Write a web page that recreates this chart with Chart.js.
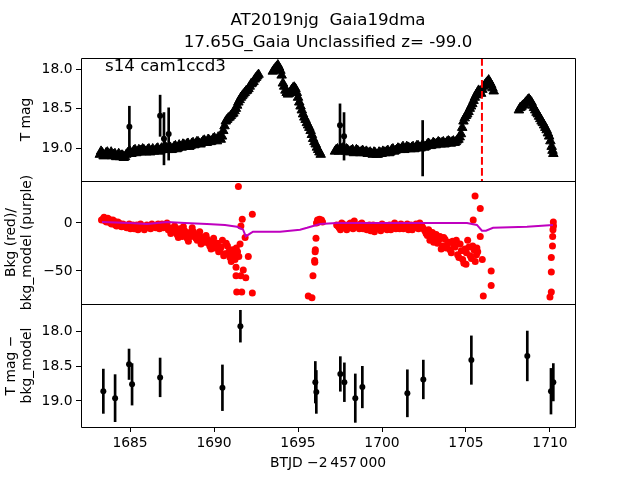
<!DOCTYPE html>
<html>
<head>
<meta charset="utf-8">
<script src="https://cdn.jsdelivr.net/npm/chart.js"></script>
<style>
  html, body { margin: 0; padding: 0; background: #fff; }
  #wrap { width: 640px; height: 480px; }
</style>
</head>
<body>
<div id="wrap"><canvas id="lcChart" width="640" height="480"></canvas></div>
<script>
// titles / labels
const titleLines = ['AT2019njg  Gaia19dma', '17.65G_Gaia Unclassified z= -99.0'];
const sectorLabel = 's14 cam1ccd3';
const xLabel = 'BTJD \u22122\u2009457\u2009000';
const eventTime = 1705.95;

// x range and ticks (BTJD - 2457000)
const xMin = 1682.08, xMax = 1711.49;
const magMin = 17.861, magMax = 19.414;     // top panel (inverted)
const bkgMin = -84.4, bkgMax = 43.75;       // middle panel
const difMin = 17.599, difMax = 19.377;     // bottom panel (inverted)

// TESS light curve, T mag (triangles)
const lcTime = [
  1683.2, 1683.35, 1683.5, 1683.65, 1683.8, 1683.95, 1684.1, 1684.25, 1684.4, 1684.55,
  1684.7, 1684.85, 1685.0, 1685.15, 1685.3, 1685.45, 1685.6, 1685.75, 1685.9, 1686.05,
  1686.2, 1686.35, 1686.5, 1686.65, 1686.8, 1686.95, 1687.1, 1687.25, 1687.4, 1687.55,
  1687.7, 1687.85, 1688.0, 1688.15, 1688.3, 1688.45, 1688.6, 1688.75, 1688.9, 1689.05,
  1689.2, 1689.35, 1689.5, 1689.65, 1689.8, 1689.95, 1690.1, 1690.25, 1690.4, 1690.55,
  1690.7, 1690.85, 1691.0, 1691.15, 1691.3, 1691.45, 1691.6, 1691.75, 1691.9, 1692.05,
  1692.2, 1692.35, 1692.5, 1692.65,
  1693.5, 1693.65, 1693.8, 1693.95, 1694.1, 1694.25, 1694.4, 1694.55, 1694.7, 1694.85,
  1695.0, 1695.15, 1695.3, 1695.45, 1695.6, 1695.75, 1695.9, 1696.05, 1696.2, 1696.35,
  1697.2, 1697.35, 1697.5, 1697.65, 1697.8, 1697.95, 1698.1, 1698.25, 1698.4, 1698.55,
  1698.7, 1698.85, 1699.0, 1699.15, 1699.3, 1699.45, 1699.6, 1699.75, 1699.9, 1700.05,
  1700.2, 1700.35, 1700.5, 1700.65, 1700.8, 1700.95, 1701.1, 1701.25, 1701.4, 1701.55,
  1701.7, 1701.85, 1702.0, 1702.15, 1702.3, 1702.45, 1702.6, 1702.75, 1702.9, 1703.05,
  1703.2, 1703.35, 1703.5, 1703.65, 1703.8, 1703.95, 1704.1, 1704.25, 1704.4, 1704.55,
  1704.7, 1704.85, 1705.0, 1705.15, 1705.3, 1705.45, 1705.6, 1705.75, 1705.9, 1706.05,
  1706.2, 1706.35, 1706.5, 1706.65,
  1708.15, 1708.3, 1708.45, 1708.6, 1708.75, 1708.9, 1709.05, 1709.2, 1709.35, 1709.5,
  1709.65, 1709.8, 1709.95, 1710.1, 1710.2
];
const lcMag = [
  19.08, 19.06, 19.09, 19.05, 19.08, 19.10, 19.07, 19.10, 19.11, 19.09,
  19.11, 19.06, 19.04, 19.06, 19.02, 19.05, 19.03, 19.01, 19.04, 19.02,
  19.05, 19.01, 19.03, 19.00, 19.03, 19.01, 18.98, 19.02, 18.99, 19.01,
  18.97, 19.00, 18.98, 18.95, 18.98, 18.94, 18.97, 18.93, 18.95, 18.92,
  18.95, 18.91, 18.93, 18.89, 18.92, 18.88, 18.90, 18.86, 18.89, 18.78,
  18.66, 18.62, 18.59, 18.56, 18.50, 18.42, 18.36, 18.32, 18.28, 18.25,
  18.19, 18.16, 18.11, 18.07,
  18.03, 17.99, 17.95, 18.02, 18.18, 18.27, 18.32, 18.29, 18.24, 18.25,
  18.36, 18.47, 18.57, 18.64, 18.71, 18.78, 18.88, 18.95, 19.02, 19.08,
  19.04, 19.01, 19.03, 19.00, 19.04, 19.02, 19.05, 19.02, 19.05, 19.03,
  19.06, 19.03, 19.05, 19.07, 19.05, 19.08, 19.06, 19.08, 19.06, 19.04,
  19.06, 19.03, 19.05, 19.01, 19.03, 19.00, 19.02, 18.98, 19.01, 18.99,
  19.01, 18.98, 19.00, 18.97, 19.00, 18.96, 18.98, 18.94, 18.97, 18.93,
  18.96, 18.92, 18.95, 18.92, 18.94, 18.91, 18.94, 18.91, 18.92, 18.89,
  18.82, 18.66, 18.59, 18.54, 18.47, 18.40, 18.33, 18.27, 18.31, 18.22,
  18.18, 18.14, 18.20, 18.28,
  18.52, 18.48, 18.45, 18.41, 18.38, 18.42, 18.49, 18.55, 18.60, 18.66,
  18.71, 18.77, 18.85, 18.98, 19.07
];
// interleaved cadences of the same light curve
const lcTimeB = [
  1683.275, 1683.425, 1683.575, 1683.725, 1683.875, 1684.025, 1684.175, 1684.325, 1684.475, 1684.625,
  1684.775, 1684.925, 1685.075, 1685.225, 1685.375, 1685.525, 1685.675, 1685.825, 1685.975, 1686.125,
  1686.275, 1686.425, 1686.575, 1686.725, 1686.875, 1687.025, 1687.175, 1687.325, 1687.475, 1687.625,
  1687.775, 1687.925, 1688.075, 1688.225, 1688.375, 1688.525, 1688.675, 1688.825, 1688.975, 1689.125,
  1689.275, 1689.425, 1689.575, 1689.725, 1689.875, 1690.025, 1690.175, 1690.325, 1690.475, 1690.625,
  1690.775, 1690.925, 1691.075, 1691.225, 1691.375, 1691.525, 1691.675, 1691.825, 1691.975, 1692.125,
  1692.275, 1692.425, 1692.575,
  1693.575, 1693.725, 1693.875, 1694.025, 1694.175, 1694.325, 1694.475, 1694.625, 1694.775, 1694.925,
  1695.075, 1695.225, 1695.375, 1695.525, 1695.675, 1695.825, 1695.975, 1696.125, 1696.275,
  1697.275, 1697.425, 1697.575, 1697.725, 1697.875, 1698.025, 1698.175, 1698.325, 1698.475, 1698.625,
  1698.775, 1698.925, 1699.075, 1699.225, 1699.375, 1699.525, 1699.675, 1699.825, 1699.975, 1700.125,
  1700.275, 1700.425, 1700.575, 1700.725, 1700.875, 1701.025, 1701.175, 1701.325, 1701.475, 1701.625,
  1701.775, 1701.925, 1702.075, 1702.225, 1702.375, 1702.525, 1702.675, 1702.825, 1702.975, 1703.125,
  1703.275, 1703.425, 1703.575, 1703.725, 1703.875, 1704.025, 1704.175, 1704.325, 1704.475, 1704.625,
  1704.775, 1704.925, 1705.075, 1705.225, 1705.375, 1705.525, 1705.675, 1705.825, 1705.975, 1706.125,
  1706.275, 1706.425, 1706.575,
  1708.225, 1708.375, 1708.525, 1708.675, 1708.825, 1708.975, 1709.125, 1709.275, 1709.425, 1709.575,
  1709.725, 1709.875, 1710.025, 1710.15
];
const lcMagB = [
  19.04, 19.10, 19.06, 19.09, 19.05, 19.08, 19.11, 19.07, 19.09, 19.12,
  19.08, 19.05, 19.07, 19.03, 19.06, 19.02, 19.05, 19.02, 19.05, 19.01,
  19.03, 19.04, 19.01, 19.04, 19.00, 19.02, 19.00, 18.98, 19.02, 18.98,
  19.01, 18.96, 18.99, 18.96, 18.95, 18.98, 18.94, 18.96, 18.92, 18.94,
  18.93, 18.90, 18.93, 18.90, 18.91, 18.87, 18.91, 18.88, 18.85, 18.72,
  18.64, 18.61, 18.57, 18.53, 18.46, 18.39, 18.34, 18.30, 18.27, 18.22,
  18.18, 18.13, 18.09,
  18.01, 17.97, 17.98, 18.08, 18.22, 18.30, 18.31, 18.26, 18.23, 18.30,
  18.42, 18.52, 18.61, 18.68, 18.74, 18.83, 18.92, 18.99, 19.05,
  19.02, 19.04, 19.01, 19.03, 19.01, 19.04, 19.03, 19.06, 19.02, 19.05,
  19.04, 19.06, 19.04, 19.06, 19.07, 19.05, 19.08, 19.05, 19.07, 19.05,
  19.04, 19.06, 19.02, 19.04, 19.02, 19.01, 19.00, 19.02, 18.98, 19.00,
  18.99, 19.01, 18.97, 18.99, 18.97, 18.99, 18.96, 18.95, 18.96, 18.94,
  18.94, 18.93, 18.93, 18.95, 18.92, 18.92, 18.92, 18.93, 18.90, 18.86,
  18.74, 18.62, 18.57, 18.50, 18.44, 18.36, 18.30, 18.29, 18.26, 18.20,
  18.16, 18.17, 18.24,
  18.49, 18.46, 18.43, 18.39, 18.40, 18.46, 18.52, 18.57, 18.63, 18.68,
  18.74, 18.81, 18.91, 19.03
];

// difference-image points shown in the top panel
const ptTime = [1684.96, 1686.79, 1687.02, 1687.30, 1697.50, 1697.74, 1702.42];
const ptMag  = [18.73, 18.59, 18.88, 18.82, 18.71, 18.85, 19.00];
const ptErr  = [0.26, 0.26, 0.33, 0.33, 0.27, 0.30, 0.35];

// background flux (red dots)
const bkgTime = [
  1683.3, 1683.45, 1683.6, 1683.75, 1683.9, 1684.05, 1684.2, 1684.35, 1684.5, 1684.65,
  1684.8, 1684.95, 1685.1, 1685.25, 1685.4, 1685.55, 1685.7, 1685.85, 1686.0, 1686.15,
  1686.3, 1686.45, 1686.6, 1686.75, 1686.9, 1687.05, 1687.2, 1687.35, 1687.5, 1687.65,
  1687.8, 1687.95, 1688.1, 1688.25, 1688.4, 1688.55, 1688.7, 1688.85, 1689.0, 1689.15,
  1689.3, 1689.45, 1689.6, 1689.75, 1689.9, 1690.05, 1690.2, 1690.35, 1690.5, 1690.65,
  1690.8, 1690.95, 1691.1, 1691.25, 1691.4, 1691.55,
  1691.45, 1691.68, 1692.28, 1691.6, 1691.85, 1692.04, 1691.31, 1691.74, 1691.31, 1691.59,
  1691.89, 1691.35, 1691.65, 1692.28,
  1695.61, 1695.83, 1695.89, 1695.99, 1696.0, 1696.02, 1696.03, 1696.07, 1696.1, 1696.16,
  1696.22, 1696.28, 1696.34, 1696.4, 1696.46,
  1697.3, 1697.45, 1697.6, 1697.75, 1697.9, 1698.05, 1698.2, 1698.35, 1698.5, 1698.65,
  1698.8, 1698.95, 1699.1, 1699.25, 1699.4, 1699.55, 1699.7, 1699.85, 1700.0, 1700.15,
  1700.3, 1700.45, 1700.6, 1700.75, 1700.9, 1701.05, 1701.2, 1701.35, 1701.5, 1701.65,
  1701.8, 1701.95, 1702.1, 1702.25, 1702.4, 1702.55, 1702.7, 1702.85, 1703.0, 1703.15,
  1703.3, 1703.45, 1703.6, 1703.75, 1703.9, 1704.05, 1704.2, 1704.35, 1704.5, 1704.65,
  1704.8, 1704.95, 1705.1, 1705.25, 1705.4, 1705.55, 1705.7, 1705.85,
  1705.54, 1705.85, 1705.43, 1706.5, 1706.5, 1706.03, 1705.97, 1705.65, 1705.0,
  1710.2, 1710.21, 1710.18, 1710.16, 1710.15, 1710.08, 1710.08, 1710.08, 1710.0
];
const bkgFlux = [
  3, 6, 1, 4, -1, 2, -3, 0, -4, -2,
  -5, -1, -4, -6, -2, -5, -3, -7, -2, -5,
  -1, -4, -2, -6, -1, -3, 0, -5, -9, -3,
  -12, -6, -14, -8, -16, -10, -5, -13, -18, -9,
  -15, -20, -17, -24, -19, -26, -21, -28, -18, -32,
  -24, -36, -28, -38, -30, -22,
  38, 4, 9, -3, -15, -35, -46, -49, -55, -55,
  -57, -72, -72, -73,
  -76, -78, -55, -39, -41, -30, -28, -16, 0, 3,
  1, 4, 2, 3, 1,
  -2, -5, 0, -4, -7, -1, -5, 2, -3, -6,
  0, -4, -7, -2, -5, -9, -3, -6, -1, -4,
  -7, -2, -5, 0, -4, -6, -2, -5, -1, -4,
  -7, -3, -5, 0, -4, -8, -13, -18, -10, -16,
  -21, -14, -24, -17, -22, -28, -19, -25, -33, -22,
  -38, -27, -18, -34, -24, -40, -30, -14,
  28, 15, 3, -50, -65, -76, -38, -26, -43,
  1, -3, -7, -14, -24, -36, -51, -72, -77
];
const bkgTimeB = [
  1683.375, 1683.525, 1683.675, 1683.825, 1683.975, 1684.125, 1684.275, 1684.425, 1684.575, 1684.725,
  1684.875, 1685.025, 1685.175, 1685.325, 1685.475, 1685.625, 1685.775, 1685.925, 1686.075, 1686.225,
  1686.375, 1686.525, 1686.675, 1686.825, 1686.975, 1687.125, 1687.275, 1687.425, 1687.575, 1687.725,
  1687.875, 1688.025, 1688.175, 1688.325, 1688.475, 1688.625, 1688.775, 1688.925, 1689.075, 1689.225,
  1689.375, 1689.525, 1689.675, 1689.825, 1689.975, 1690.125, 1690.275, 1690.425, 1690.575, 1690.725,
  1690.875, 1691.025, 1691.175, 1691.325, 1691.475,
  1697.375, 1697.525, 1697.675, 1697.825, 1697.975, 1698.125, 1698.275, 1698.425, 1698.575, 1698.725,
  1698.875, 1699.025, 1699.175, 1699.325, 1699.475, 1699.625, 1699.775, 1699.925, 1700.075, 1700.225,
  1700.375, 1700.525, 1700.675, 1700.825, 1700.975, 1701.125, 1701.275, 1701.425, 1701.575, 1701.725,
  1701.875, 1702.025, 1702.175, 1702.325, 1702.475, 1702.625, 1702.775, 1702.925, 1703.075, 1703.225,
  1703.375, 1703.525, 1703.675, 1703.825, 1703.975, 1704.125, 1704.275, 1704.425, 1704.575, 1704.725,
  1704.875, 1705.025, 1705.175, 1705.325, 1705.475, 1705.625
];
const bkgFluxB = [
  4, 2, 5, 0, 3, -2, 1, -3, -1, -4,
  -3, -6, -2, -4, -7, -1, -5, -4, -3, -6,
  -3, -5, -1, -4, -5, -2, -7, -11, -6, -8,
  -15, -10, -4, -12, -19, -14, -9, -16, -12, -22,
  -18, -13, -21, -27, -16, -23, -30, -25, -34, -21,
  -30, -40, -33, -26, -35,
  -3, -7, -1, -5, -3, 0, -6, -2, -4, -1,
  -6, -3, -5, -8, -2, -6, -4, -8, -2, -5,
  -3, -7, -2, -6, -3, -1, -6, -3, -7, -2,
  -5, -1, -6, -3, -6, -11, -7, -15, -20, -12,
  -18, -27, -15, -26, -20, -31, -23, -18, -36, -29,
  -42, -31, -25, -37, -28, -33
];

// background model (purple line)
const modelTime = [
  1683.33, 1685.0, 1686.01, 1687.2, 1688.27, 1689.58, 1690.65, 1691.37, 1691.73, 1691.89,
  1692.14, 1692.32, 1693.93, 1695.12, 1695.54, 1696.31, 1697.32, 1699.88, 1702.26, 1705.06,
  1705.65, 1705.95, 1706.19, 1706.61, 1708.63, 1710.18
];
const modelFlux = [
  1, 0, -1, 1, 0, -1, -2, -4, -7, -14,
  -11, -9, -9, -7, -5, -1, 0, 0, 0, 0,
  -2, -8, -8, -5, -4, -2
];

// T mag - bkg_model (bottom panel)
const difTime = [1683.41, 1684.11, 1684.94, 1685.12, 1686.79, 1690.50, 1691.57, 1696.03, 1696.09, 1697.52,
                 1697.76, 1698.41, 1698.83, 1701.51, 1702.46, 1705.32, 1708.65, 1710.06, 1710.20];
const difMag  = [18.86, 18.96, 18.47, 18.76, 18.66, 18.81, 17.92, 18.73, 18.87, 18.61,
                 18.73, 18.96, 18.80, 18.89, 18.69, 18.41, 18.35, 18.86, 18.73];
const difErr  = [0.32, 0.34, 0.22, 0.30, 0.28, 0.33, 0.23, 0.30, 0.31, 0.25,
                 0.28, 0.35, 0.30, 0.34, 0.28, 0.35, 0.36, 0.33, 0.27];

Chart.defaults.font.family = "'DejaVu Sans'";
Chart.defaults.font.size = 13.89;
Chart.defaults.color = '#000';

const tickGrid = { drawOnChartArea: false, drawTicks: true, tickLength: 5, tickWidth: 1, tickColor: '#000', color: '#000' };
const magTicks = v => v.toFixed(1);
const toXY = (ts, ys) => ts.map((t, i) => ({ x: t, y: ys[i] }));

const framePlugin = {
  id: 'frame',
  afterDatasetsDraw(chart) {
    const { ctx, chartArea: a, scales } = chart;
    const px = v => Math.round(v) + 0.5;
    ctx.save();
    ctx.strokeStyle = '#000';
    ctx.lineWidth = 1;
    ctx.beginPath();
    ctx.rect(px(a.left), px(a.top), Math.round(a.right) - Math.round(a.left), Math.round(a.bottom) - Math.round(a.top));
    ctx.moveTo(px(a.left), px(scales.y1.bottom));
    ctx.lineTo(px(a.right), px(scales.y1.bottom));
    ctx.moveTo(px(a.left), px(scales.y2.bottom));
    ctx.lineTo(px(a.right), px(scales.y2.bottom));
    ctx.stroke();
    ctx.font = "16.67px 'DejaVu Sans'";
    ctx.fillStyle = '#000';
    ctx.textBaseline = 'alphabetic';
    ctx.fillText(sectorLabel, a.left + 24, a.top + 12.5);
    ctx.restore();
  }
};

new Chart(document.getElementById('lcChart'), {
  type: 'scatter',
  data: {
    datasets: [
      {
        type: 'line',
        data: [{ x: eventTime, y: magMin }, { x: eventTime, y: magMax }],
        yAxisID: 'y1', borderColor: '#ff0000', borderWidth: 2, borderDash: [7.7, 3.3],
        pointRadius: 0, order: 0
      },
      {
        type: 'bar',
        data: ptTime.map((t, i) => ({ x: t, y: [ptMag[i] - ptErr[i], ptMag[i] + ptErr[i]] })),
        yAxisID: 'y1', backgroundColor: '#000', barThickness: 2, grouped: false, order: 1
      },
      {
        data: toXY(ptTime, ptMag),
        yAxisID: 'y1', pointRadius: 3, pointBackgroundColor: '#000', pointBorderWidth: 0, order: 1
      },
      {
        data: toXY(lcTime, lcMag).concat(toXY(lcTimeB, lcMagB)),
        yAxisID: 'y1', pointStyle: 'triangle', pointRadius: 5.5, pointBackgroundColor: '#000',
        pointBorderColor: '#000', pointBorderWidth: 1, order: 2
      },
      {
        type: 'line',
        data: toXY(modelTime, modelFlux),
        yAxisID: 'y2', borderColor: '#bf00bf', borderWidth: 2, pointRadius: 0, tension: 0, order: 0
      },
      {
        data: toXY(bkgTime, bkgFlux).concat(toXY(bkgTimeB, bkgFluxB)),
        yAxisID: 'y2', pointRadius: 3.5, pointBackgroundColor: '#ff0000', pointBorderWidth: 0, order: 1
      },
      {
        type: 'bar',
        data: difTime.map((t, i) => ({ x: t, y: [difMag[i] - difErr[i], difMag[i] + difErr[i]] })),
        yAxisID: 'y3', backgroundColor: '#000', barThickness: 2, grouped: false, order: 1
      },
      {
        data: toXY(difTime, difMag),
        yAxisID: 'y3', pointRadius: 3, pointBackgroundColor: '#000', pointBorderWidth: 0, order: 0
      }
    ]
  },
  options: {
    responsive: false,
    animation: false,
    devicePixelRatio: 1,
    events: [],
    layout: { padding: { top: 0, right: 65, bottom: 0, left: 0 } },
    plugins: {
      legend: { display: false },
      tooltip: { enabled: false },
      title: {
        display: true,
        text: titleLines,
        fullSize: false,
        align: 'center',
        color: '#000',
        font: { size: 16.67, weight: 'normal', lineHeight: 1.35 },
        padding: { top: 9, bottom: 4 }
      }
    },
    scales: {
      x: {
        type: 'linear', position: 'bottom', min: xMin, max: xMax, offset: false,
        grid: { ...tickGrid, offset: false },
        border: { display: false },
        ticks: { stepSize: 5, includeBounds: false, padding: 3, callback: v => String(v) },
        title: { display: true, text: xLabel, padding: { top: 0, bottom: 8 } },
        afterFit: s => { s.height = 53; }
      },
      y1: {
        type: 'linear', position: 'left', stack: 'panels', stackWeight: 1, weight: 3,
        reverse: true, min: magMin, max: magMax,
        grid: tickGrid, border: { display: false },
        ticks: { stepSize: 0.5, includeBounds: false, padding: 3.5, callback: magTicks },
        title: { display: true, text: 'T mag', font: { lineHeight: 1.1 }, padding: { top: 19, bottom: 0 } },
        afterFit: s => { s.width = 81; }
      },
      y2: {
        type: 'linear', position: 'left', stack: 'panels', stackWeight: 1, weight: 2,
        min: bkgMin, max: bkgMax,
        grid: tickGrid, border: { display: false },
        ticks: { stepSize: 50, includeBounds: false, padding: 3.5,
                 callback: v => (v < 0 ? '\u2212' + (-v) : String(v)) },
        title: { display: true, text: ['Bkg (red)/', 'bkg_model (purple)'], font: { lineHeight: 1.1 }, padding: { top: 4, bottom: 0 } },
        afterFit: s => { s.width = 81; }
      },
      y3: {
        type: 'linear', position: 'left', stack: 'panels', stackWeight: 1, weight: 1,
        reverse: true, min: difMin, max: difMax,
        grid: tickGrid, border: { display: false },
        ticks: { stepSize: 0.5, includeBounds: false, padding: 3.5, callback: magTicks },
        title: { display: true, text: ['T mag \u2212', 'bkg_model'], font: { lineHeight: 1.1 }, padding: { top: 4, bottom: 0 } },
        afterFit: s => { s.width = 81; }
      }
    }
  },
  plugins: [framePlugin]
});
</script>
</body>
</html>
